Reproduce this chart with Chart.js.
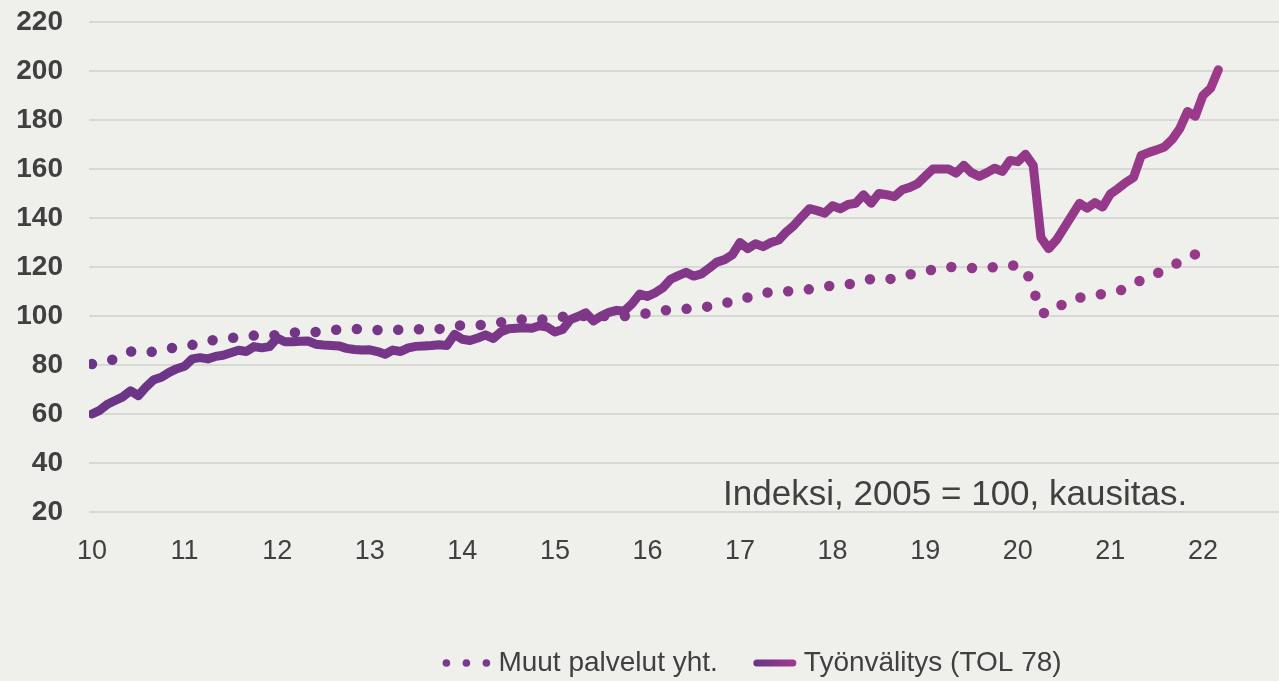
<!DOCTYPE html>
<html>
<head>
<meta charset="utf-8">
<script src="https://cdn.jsdelivr.net/npm/chart.js@4.4.1/dist/chart.umd.min.js"></script>
<style>
  html, body { margin: 0; padding: 0; background: #efefeb; }
  #wrap { width: 1279px; height: 681px; }
</style>
</head>
<body>
<div id="wrap"><canvas id="chart"></canvas></div>
<script>
// months since Jan 2010 where the year labels sit
const yearTicks = [0, 12, 24, 36, 48, 60, 72, 84, 96, 108, 120, 132, 144];
const yearLabels = ['10', '11', '12', '13', '14', '15', '16', '17', '18', '19', '20', '21', '22'];

const muutLabel = 'Muut palvelut yht.';
const tyonLabel = 'Työnvälitys (TOL 78)';
const noteText = 'Indeksi, 2005 = 100, kausitas.';

// monthly, Jan 2010 -> Jan 2022
const muutValues = [
  80.4, 81, 81.6, 82.5, 84, 85.5, 85.5, 85, 85.5, 86.3,
  86.8, 87.2, 87.6, 88.2, 89, 89.8, 90.3, 90.7, 91, 91.4,
  91.8, 92, 92, 92, 92.3, 92.8, 93.3, 93.3, 93.3, 93.5,
  93.9, 94.2, 94.5, 94.6, 94.7, 94.6, 94.4, 94.3, 94.3, 94.3,
  94.4, 94.5, 94.6, 94.6, 94.6, 94.7, 95.3, 95.9, 96.2, 96.2,
  96.2, 96.5, 96.9, 97.4, 97.9, 98.4, 98.7, 98.6, 98.4, 98.8,
  99.3, 99.7, 99.8, 99.9, 100, 100, 100, 100, 100, 100,
  100.4, 100.8, 101.1, 101.6, 102.2, 102.5, 102.7, 102.9, 103.2, 103.6,
  103.9, 104.5, 105.2, 106, 106.9, 107.6, 108.4, 109.3, 109.8, 109.9,
  110, 110.3, 110.6, 110.9, 111.4, 112, 112.4, 112.7, 112.9, 113.7,
  114.5, 115.1, 115, 114.8, 115.5, 116.3, 117, 117.6, 118.3, 118.9,
  119.5, 120.1, 119.9, 119.7, 119.6, 119.6, 119.7, 120, 120.4, 120.8,
  120.3, 119.3, 111, 101.5, 100.8, 102.5, 105.5, 106.8, 107.5, 108.2,
  108.6, 109, 109.6, 110.3, 111, 112.5, 114.8, 116.5, 117.5, 118.3,
  120, 122.5, 124, 125.2, 126.2
];

// monthly, Jan 2010 -> Mar 2022
const tyonValues = [
  60, 61.5, 64, 65.5, 67, 69.5, 67.5, 71, 74, 75,
  77, 78.5, 79.5, 82.5, 83, 82.5, 83.5, 84, 85, 86,
  85.5, 87.5, 87, 87.5, 91, 89.5, 89.5, 89.7, 89.8, 88.5,
  88.2, 88, 87.8, 86.8, 86.3, 86.1, 86.2, 85.5, 84.4, 86.1,
  85.5, 87, 87.6, 87.8, 88, 88.3, 88, 92.5, 90.5, 90,
  91, 92.3, 90.8, 93.5, 94.8, 95, 95.2, 95, 96, 95.5,
  93.5, 94.5, 98.5, 99.8, 101.3, 98, 100, 101.5, 102.3, 102,
  105, 109, 108, 109.5, 111.5, 115, 116.5, 117.8, 116.3, 117.2,
  119.5, 122, 123, 125, 130, 127.5, 129.5, 128.3, 130, 131,
  134.3, 137, 140.5, 143.8, 143, 142, 145, 143.8, 145.5, 146,
  149.5, 146, 150, 149.5, 148.7, 151.5, 152.5, 154, 157, 160,
  160, 160, 158.3, 161.5, 158.5, 157, 158.5, 160.3, 159, 163.5,
  163, 166, 161.5, 132, 127.5, 131, 136, 141, 146, 144,
  146.3, 144.5, 149.8, 152, 154.5, 156.5, 165.5, 166.8, 167.8, 169,
  172, 176.5, 183.5, 181.5, 190, 193, 200.5
];

const textColor = '#404040';
const purpleLeft = '#683587';
const purpleRight = '#a03a8a';

let grad = null;
function purple(ctx) {
  const chart = ctx.chart;
  const area = chart.chartArea;
  if (!area) return purpleLeft;
  if (!grad) {
    grad = chart.ctx.createLinearGradient(area.left, area.bottom, area.right, area.top);
    grad.addColorStop(0, purpleLeft);
    grad.addColorStop(1, purpleRight);
  }
  return grad;
}

const notePlugin = {
  id: 'note',
  afterDatasetsDraw(chart) {
    const { ctx, scales } = chart;
    ctx.save();
    ctx.font = '35px "Liberation Sans", Arial, sans-serif';
    ctx.fillStyle = textColor;
    ctx.textBaseline = 'middle';
    ctx.fillText(noteText, scales.x.getPixelForValue(81.8), scales.y.getPixelForValue(26.6));
    ctx.restore();
  }
};

// legend drawn by hand so the markers look like the original
const legendPlugin = {
  id: 'bottomLegend',
  afterDraw(chart) {
    const ctx = chart.ctx;
    const y = chart.height - 18;
    ctx.save();
    ctx.font = '28px "Liberation Sans", Arial, sans-serif';
    ctx.textBaseline = 'middle';
    const w1 = ctx.measureText(muutLabel).width;
    const w2 = ctx.measureText(tyonLabel).width;
    const total = 50 + 6 + w1 + 36 + 42 + 8 + w2;
    let x = 752 - total / 2;

    ctx.fillStyle = '#7a398b';
    [4, 24, 44].forEach(dx => {
      ctx.beginPath();
      ctx.arc(x + dx, y, 3.8, 0, Math.PI * 2);
      ctx.fill();
    });
    x += 50 + 6;
    ctx.fillStyle = textColor;
    ctx.fillText(muutLabel, x, y);
    x += w1 + 36;

    const g = ctx.createLinearGradient(x, 0, x + 42, 0);
    g.addColorStop(0, purpleLeft);
    g.addColorStop(1, purpleRight);
    ctx.strokeStyle = g;
    ctx.lineWidth = 7;
    ctx.lineCap = 'round';
    ctx.beginPath();
    ctx.moveTo(x + 3, y);
    ctx.lineTo(x + 39, y);
    ctx.stroke();
    x += 42 + 8;
    ctx.fillStyle = textColor;
    ctx.fillText(tyonLabel, x, y);
    ctx.restore();
  }
};

new Chart(document.getElementById('chart'), {
  type: 'line',
  data: {
    datasets: [
      {
        label: muutLabel,
        data: muutValues.map((v, i) => ({ x: i, y: v })),
        borderColor: purple,
        borderWidth: 10.5,
        borderDash: [0, 20.7],
        borderCapStyle: 'round',
        pointRadius: 0,
        tension: 0,
        order: 2,
      },
      {
        label: tyonLabel,
        data: tyonValues.map((v, i) => ({ x: i, y: v })),
        borderColor: purple,
        borderWidth: 9,
        borderCapStyle: 'round',
        borderJoinStyle: 'round',
        pointRadius: 0,
        tension: 0,
        order: 1,
      },
    ],
  },
  options: {
    responsive: true,
    maintainAspectRatio: false,
    animation: false,
    layout: { padding: { top: 22, left: 0, right: 0, bottom: 109 } },
    plugins: {
      legend: { display: false },
      tooltip: { enabled: false },
    },
    scales: {
      x: {
        type: 'linear',
        min: -0.39,
        max: 153.86,
        grid: { display: false },
        border: { display: false },
        afterBuildTicks: (axis) => {
          axis.ticks = yearTicks.map(v => ({ value: v }));
        },
        afterFit: (axis) => { axis.height = 60; },
        ticks: {
          autoSkip: false,
          maxRotation: 0,
          padding: 15,
          color: textColor,
          font: { family: '"Liberation Sans", Arial, sans-serif', size: 27 },
          callback: (v) => yearLabels[yearTicks.indexOf(v)] ?? '',
        },
      },
      y: {
        min: 20,
        max: 220,
        grid: { color: '#d8d8d5', lineWidth: 2, drawTicks: false },
        border: { display: false },
        afterFit: (axis) => {
          axis.width = 89;
          axis.paddingTop = 17;
          axis.paddingBottom = 17;
        },
        ticks: {
          stepSize: 20,
          padding: 26,
          color: textColor,
          font: { family: '"Liberation Sans", Arial, sans-serif', size: 28, weight: 'bold' },
        },
      },
    },
  },
  plugins: [notePlugin, legendPlugin],
});
</script>
</body>
</html>
